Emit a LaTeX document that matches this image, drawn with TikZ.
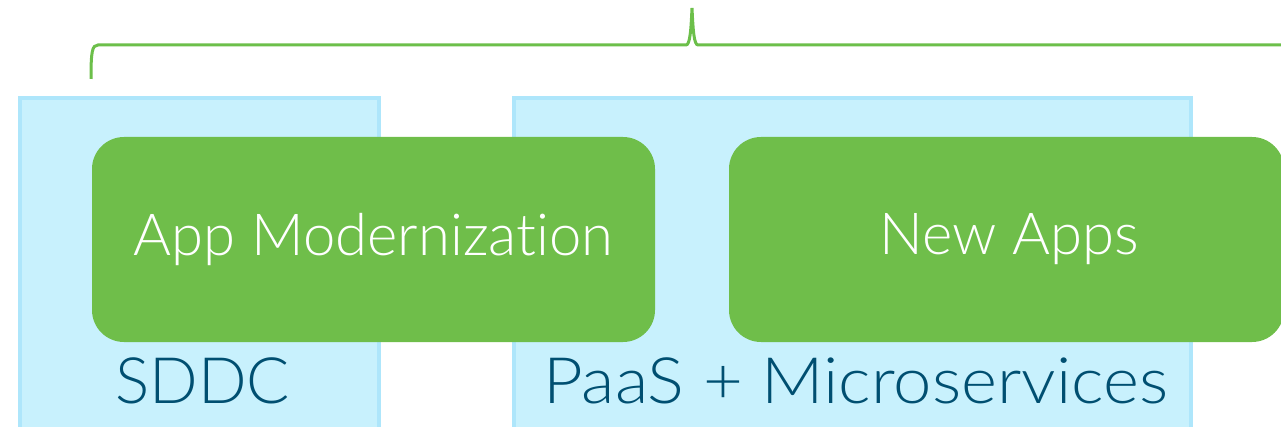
\documentclass[tikz,border=0pt]{standalone}
\usepackage{fontspec}
\setmainfont{Lato Light}[Ligatures=NoCommon]
\definecolor{appgreen}{HTML}{6FBE4A}
\definecolor{bracegreen}{HTML}{6CBF4A}
\definecolor{boxfill}{HTML}{C8F1FD}
\definecolor{boxline}{HTML}{AEE6FB}
\definecolor{labelblue}{HTML}{004F71}
\tikzset{
  platform/.style={draw=boxline, line width=4pt, fill=boxfill, rectangle, inner sep=0pt},
  appbox/.style={fill=appgreen, rounded corners=32pt, rectangle, inner sep=0pt, text=white, font=\fontsize{58}{60}\selectfont},
  platlabel/.style={text=labelblue, anchor=base west, inner sep=0pt, font=\fontsize{64}{66}\selectfont},
  bracepath/.style={draw=bracegreen, line width=3pt}
}
\begin{document}
\begin{tikzpicture}[x=1pt,y=-1pt]
\useasboundingbox (0,0) rectangle (1281,427);
\clip (0,0) rectangle (1281,427);
\node[platform, minimum width=359pt, minimum height=344pt] (sddc) at (199.5,270) {};
\node[platform, minimum width=677pt, minimum height=344pt] (paas) at (852.5,270) {};
\node[platlabel] (sddclabel) at (115,403) {SDDC};
\node[platlabel] (paaslabel) at (543,403) {\scalebox{1.075}[1]{PaaS + Microservices}};
\node[appbox, minimum width=563pt, minimum height=205pt] (appmod) at (373.5,239.5) {App Modernization};
\node[appbox, minimum width=555pt, minimum height=205pt] (newapps) at (1006.5,239.5) {};
\node[text=white, font=\fontsize{58}{60}\selectfont] (newappstext) at (1009.5,239.5) {New Apps};
\coordinate (braceleft) at (91,79);
\coordinate (braceright) at (1290,45);
\draw[bracepath] (braceleft) .. controls (91,52) and (92,45) .. (98,45) -- (686,45)
  .. controls (690,45) and (691,30) .. (692,8) .. controls (693,30) and (694,45) .. (698,45) -- (braceright);
\end{tikzpicture}
\end{document}
